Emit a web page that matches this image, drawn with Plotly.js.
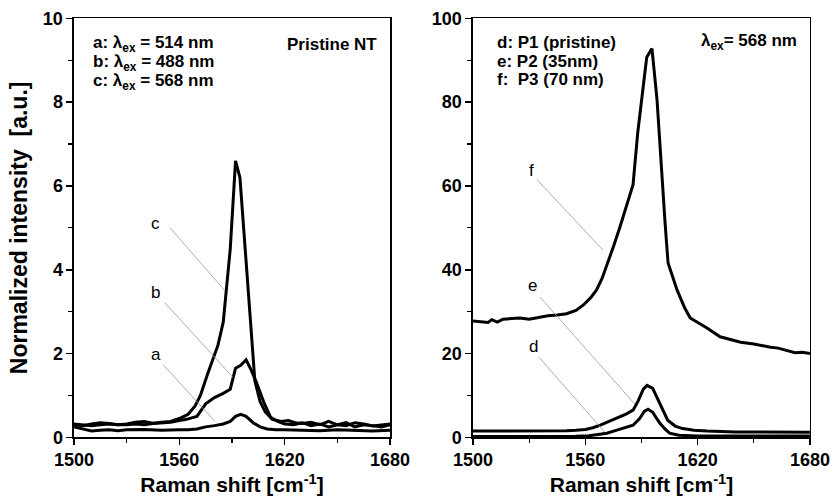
<!DOCTYPE html>
<html>
<head>
<meta charset="utf-8">
<script src="https://cdn.plot.ly/plotly-3.0.1.min.js"></script>
<style>html,body{margin:0;padding:0;background:#fff;}#chart{width:837px;height:497px;}</style>
</head>
<body>
<div id="chart"></div>
<script>
// ---- Left panel (pristine NT, different excitation) ----
const xA = [1500,1505,1510,1515,1520,1525,1530,1540,1550,1560,1565,1570,1575,1580,1585,1589,1592,1595,1598,1602,1606,1610,1615,1620,1630,1640,1650,1660,1670,1680];
const yA = [0.25,0.2,0.15,0.17,0.18,0.16,0.18,0.19,0.17,0.18,0.18,0.2,0.25,0.28,0.32,0.38,0.5,0.55,0.5,0.35,0.25,0.2,0.18,0.18,0.17,0.16,0.18,0.17,0.15,0.17];

const xB = [1500,1505,1510,1515,1520,1525,1530,1535,1540,1545,1550,1555,1560,1564,1570,1575,1580,1585,1589,1592,1595,1598,1601,1604,1608,1612,1616,1620,1625,1630,1635,1640,1645,1650,1655,1660,1665,1670,1675,1680];
const yB = [0.32,0.3,0.28,0.3,0.32,0.3,0.3,0.32,0.3,0.33,0.35,0.36,0.4,0.43,0.5,0.8,0.95,1.05,1.15,1.65,1.72,1.85,1.6,1.3,0.85,0.48,0.38,0.32,0.3,0.35,0.28,0.32,0.25,0.3,0.35,0.25,0.3,0.28,0.25,0.3];

const xC = [1500,1505,1510,1515,1520,1525,1530,1535,1540,1545,1550,1555,1560,1565,1569,1572,1576,1579,1582,1585,1589,1592,1594.5,1597.5,1600,1603,1606,1609,1613,1618,1622,1626,1630,1635,1640,1645,1650,1655,1660,1665,1670,1675,1680];
const yC = [0.3,0.28,0.32,0.35,0.33,0.3,0.32,0.36,0.38,0.34,0.36,0.38,0.45,0.55,0.75,1.0,1.5,1.85,2.2,2.75,4.5,6.6,6.2,4.5,3.0,1.35,0.85,0.6,0.43,0.38,0.4,0.35,0.33,0.36,0.3,0.38,0.3,0.28,0.35,0.32,0.27,0.3,0.32];

// ---- Right panel (lambda_ex = 568 nm, different samples) ----
const xD = [1500,1520,1540,1555,1562,1567,1571.5,1576,1581,1585.5,1589,1591.5,1593.5,1596,1598,1600,1602.5,1605,1610,1620,1640,1660,1680];
const yD = [0.2,0.2,0.2,0.25,0.4,0.65,1.0,1.6,2.3,2.9,4.5,6.2,6.7,6.0,4.6,3.3,2.0,1.0,0.5,0.3,0.3,0.3,0.3];

const xE = [1500,1510,1520,1530,1540,1550,1555,1560,1564,1568,1573,1578.5,1582,1585.5,1588,1591,1593,1596,1600,1604,1608,1612,1618,1625,1640,1660,1680];
const yE = [1.5,1.5,1.5,1.5,1.5,1.6,1.7,1.9,2.3,2.9,3.9,4.9,5.6,6.5,8.5,11.5,12.4,11.7,8.1,4.1,2.7,2.1,1.7,1.5,1.3,1.2,1.2];

const xF = [1500,1505,1508,1510,1513,1516,1520,1525,1530,1535,1540,1545,1550,1555,1559,1563,1566,1569,1572,1575,1578.5,1582,1585.5,1588,1592.8,1595.6,1598.3,1602.6,1604.2,1609,1613,1616,1620,1625,1632,1638,1643,1650,1655,1659,1663,1668,1672,1676,1680];
const yF = [27.8,27.5,27.4,28.1,27.5,28.2,28.3,28.5,28.2,28.6,29.0,29.2,29.5,30.3,31.6,33.4,35.2,38,41.6,45.5,50.2,55,60.3,72.7,90.7,92.8,80.6,51.2,41.6,35.2,31,28.5,27.5,26.1,24,23.3,22.7,22.3,21.8,21.5,21.3,20.6,20.2,20.3,20];

// curve labels: [text, labelX, labelY, lineStartX, lineStartY, lineEndX, lineEndY, axis]
const curveLabels = [
  ['c', 1546.5, 5.1, 1554.7, 5.0, 1586, 3.5, 1],
  ['b', 1546.5, 3.45, 1551.8, 3.21, 1590.6, 1.43, 1],
  ['a', 1546.5, 1.98, 1550.7, 1.74, 1580.3, 0.38, 1],
  ['f', 1531, 63.8, 1534.2, 61.5, 1569.4, 44.7, 2],
  ['e', 1532, 36.3, 1535.8, 33.5, 1586.5, 7.9, 2],
  ['d', 1532.5, 21.6, 1535.3, 19.1, 1570.5, 1.2, 2]
];

const ticksX = [1500, 1560, 1620, 1680];

const lineStyle = {color: '#000', width: 3};
const traces = [
  {x: xA, y: yA, xaxis: 'x', yaxis: 'y'},
  {x: xB, y: yB, xaxis: 'x', yaxis: 'y'},
  {x: xC, y: yC, xaxis: 'x', yaxis: 'y'},
  {x: xD, y: yD, xaxis: 'x2', yaxis: 'y2'},
  {x: xE, y: yE, xaxis: 'x2', yaxis: 'y2'},
  {x: xF, y: yF, xaxis: 'x2', yaxis: 'y2'}
].map(t => Object.assign(t, {type: 'scatter', mode: 'lines', line: lineStyle, hoverinfo: 'skip'}));

const FONT = 'Liberation Sans, Arial, sans-serif';
const tickFont = {family: FONT, size: 18, color: '#000', weight: 'bold'};
const titleFont = {family: FONT, size: 21, color: '#000', weight: 'bold'};

function xAxis(domain, anchor) {
  return {
    domain: domain, anchor: anchor, range: [1500, 1680],
    tickvals: ticksX, ticktext: ticksX.map(String),
    ticks: 'outside', ticklen: 6, tickwidth: 1.5, tickcolor: '#000',
    minor: {tickvals: [1530, 1590, 1650], ticks: 'outside', ticklen: 4, tickwidth: 1.2, tickcolor: '#000'},
    showline: true, linewidth: 1.5, linecolor: '#000', mirror: true,
    showgrid: false, zeroline: false, tickfont: tickFont,
    title: {text: 'Raman shift [cm<sup>-1</sup>]', font: titleFont, standoff: 8}
  };
}
function yAxis(domain, anchor, range, dtick, minor, title) {
  return {
    domain: domain, anchor: anchor, range: range, dtick: dtick, tick0: 0,
    ticks: 'outside', ticklen: 6, tickwidth: 1.5, tickcolor: '#000',
    minor: {dtick: minor, tick0: 0, ticks: 'outside', ticklen: 4, tickwidth: 1.2, tickcolor: '#000'},
    showline: true, linewidth: 1.5, linecolor: '#000', mirror: true,
    showgrid: false, zeroline: false, tickfont: tickFont,
    title: title ? {text: title, font: {family: FONT, size: 23, color: '#000', weight: 'bold'}, standoff: 9} : undefined
  };
}

const annotations = [];
const shapes = [];
const legFont = {family: FONT, size: 17, color: '#000', weight: 'bold'};
function legend(text, xd, yd, axis, align) {
  const xs = axis === 1 ? 'x' : 'x2', ys = axis === 1 ? 'y' : 'y2';
  annotations.push({text: text, xref: xs + ' domain', yref: ys + ' domain', x: xd, y: yd,
    xanchor: align, yanchor: 'middle', showarrow: false, font: legFont});
}
legend('a: λ<sub>ex</sub> = 514 nm', 0.054, 0.938, 1, 'left');
legend('b: λ<sub>ex</sub> = 488 nm', 0.054, 0.893, 1, 'left');
legend('c: λ<sub>ex</sub> = 568 nm', 0.054, 0.848, 1, 'left');
legend('Pristine NT', 0.965, 0.938, 1, 'right');
legend('d: P1 (pristine)', 0.064, 0.943, 2, 'left');
legend('e: P2 (35nm)', 0.064, 0.897, 2, 'left');
legend('f:\u00a0 P3 (70 nm)', 0.064, 0.853, 2, 'left');
legend('λ<sub>ex</sub>= 568 nm', 0.966, 0.943, 2, 'right');

curveLabels.forEach(c => {
  const xs = c[7] === 1 ? 'x' : 'x2', ys = c[7] === 1 ? 'y' : 'y2';
  annotations.push({text: c[0], xref: xs, yref: ys, x: c[1], y: c[2], showarrow: false,
    xanchor: 'center', yanchor: 'middle', font: {family: FONT, size: 17, color: '#000'}});
  shapes.push({type: 'line', xref: xs, yref: ys, x0: c[3], y0: c[4], x1: c[5], y1: c[6],
    line: {color: '#999', width: 0.8}});
});

const layout = {
  width: 837, height: 497,
  margin: {l: 0, r: 0, t: 0, b: 0},
  paper_bgcolor: '#fff', plot_bgcolor: '#fff',
  showlegend: false,
  xaxis: xAxis([0.0884, 0.466], 'y'),
  yaxis: yAxis([0.12, 0.963], 'x', [0, 10], 2, 1, 'Normalized intensity\u00a0 [a.u.]'),
  xaxis2: xAxis([0.5651, 0.9677], 'y2'),
  yaxis2: yAxis([0.12, 0.963], 'x2', [0, 100], 20, 10, null),
  annotations: annotations,
  shapes: shapes
};

Plotly.newPlot('chart', traces, layout, {displayModeBar: false, staticPlot: true});
</script>
</body>
</html>
